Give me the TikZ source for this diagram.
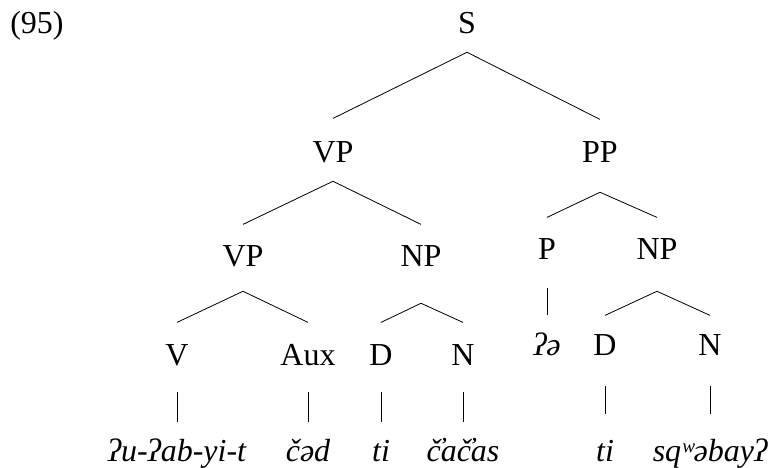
\documentclass[tikz,border=0pt]{standalone}
\usepackage{fontspec}
\setmainfont{Liberation Serif}
\usepackage{tikz}
\usetikzlibrary{calc}

\tikzset{
  lbl/.style={anchor=base, inner sep=0pt, text height=16pt, text depth=0pt,
    font=\fontsize{24}{28}\selectfont},
  word/.style={lbl, font=\fontsize{24}{28}\selectfont\itshape},
  branch/.style={line width=0.6pt}
}

\begin{document}
\begin{tikzpicture}[x=0.75pt, y=-0.75pt]
  \useasboundingbox (0,0) rectangle (772,468);

  % example number:
  \node[lbl] (num) at (37,33) {(95)};

  % category labels:
  \node[lbl] (S)   at (467,33)  {S};
  \node[lbl] (VPa) at (333,162) {VP};
  \node[lbl] (PP)  at (600,162) {PP};
  \node[lbl] (VPb) at (243,266) {VP};
  \node[lbl] (NPa) at (421,266) {NP};
  \node[lbl] (P)   at (547,259) {P};
  \node[lbl] (NPb) at (657,259) {NP};
  \node[lbl] (V)   at (177,365) {V};
  \node[lbl] (Aux) at (308,365) {Aux};
  \node[lbl] (Da)  at (381,365) {D};
  \node[lbl] (Na)  at (463,365) {N};
  \node[lbl] (Db)  at (605,355) {D};
  \node[lbl] (Nb)  at (710,355) {N};

  % the words:
  \node[word] (wP)   at (547,355) {ʔə};
  \node[word] (wV)   at (177,461) {ʔu-ʔab-yi-t};
  \node[word] (wAux) at (308,461) {čəd};
  \node[word] (wDa)  at (381,461) {ti};
  \node[word] (wNa)  at (463,461) {č̓ač̓as};
  \node[word] (wDb)  at (605,461) {ti};
  \node[word] (wNb)  at (710,461) {sqʷəbayʔ};

  % branches:
  \draw[branch] ($(S.south)+(0,19)$) -- ($(VPa.north)+(0,-22)$);
  \draw[branch] ($(S.south)+(0,19)$) -- ($(PP.north)+(0,-21)$);
  \draw[branch] ($(VPa.south)+(0,19)$) -- ($(VPb.north)+(0,-20)$);
  \draw[branch] ($(VPa.south)+(0,19)$) -- ($(NPa.north)+(0,-20)$);
  \draw[branch] ($(PP.south)+(0,30)$) -- ($(P.north)+(0,-20)$);
  \draw[branch] ($(PP.south)+(0,30)$) -- ($(NPb.north)+(0,-20)$);
  \draw[branch] ($(VPb.south)+(0,25)$) -- ($(V.north)+(0,-21)$);
  \draw[branch] ($(VPb.south)+(0,25)$) -- ($(Aux.north)+(0,-21)$);
  \draw[branch] ($(NPa.south)+(0,37)$) -- ($(Da.north)+(0,-21)$);
  \draw[branch] ($(NPa.south)+(0,37)$) -- ($(Na.north)+(0,-21)$);
  \draw[branch] ($(P.south)+(0,29)$) -- ($(wP.north)+(0,-18)$);
  \draw[branch] ($(NPb.south)+(0,32)$) -- ($(Db.north)+(0,-18)$);
  \draw[branch] ($(NPb.south)+(0,32)$) -- ($(Nb.north)+(0,-18)$);

  % the single lines down to the words:
  \draw[branch] ($(V.south)+(0,27)$) -- ($(wV.north)+(0,-17)$);
  \draw[branch] ($(Aux.south)+(0,27)$) -- ($(wAux.north)+(0,-17)$);
  \draw[branch] ($(Da.south)+(0,27)$) -- ($(wDa.north)+(0,-17)$);
  \draw[branch] ($(Na.south)+(0,27)$) -- ($(wNa.north)+(0,-17)$);
  \draw[branch] ($(Db.south)+(0,31)$) -- ($(wDb.north)+(0,-25)$);
  \draw[branch] ($(Nb.south)+(0,31)$) -- ($(wNb.north)+(0,-25)$);
\end{tikzpicture}
\end{document}
